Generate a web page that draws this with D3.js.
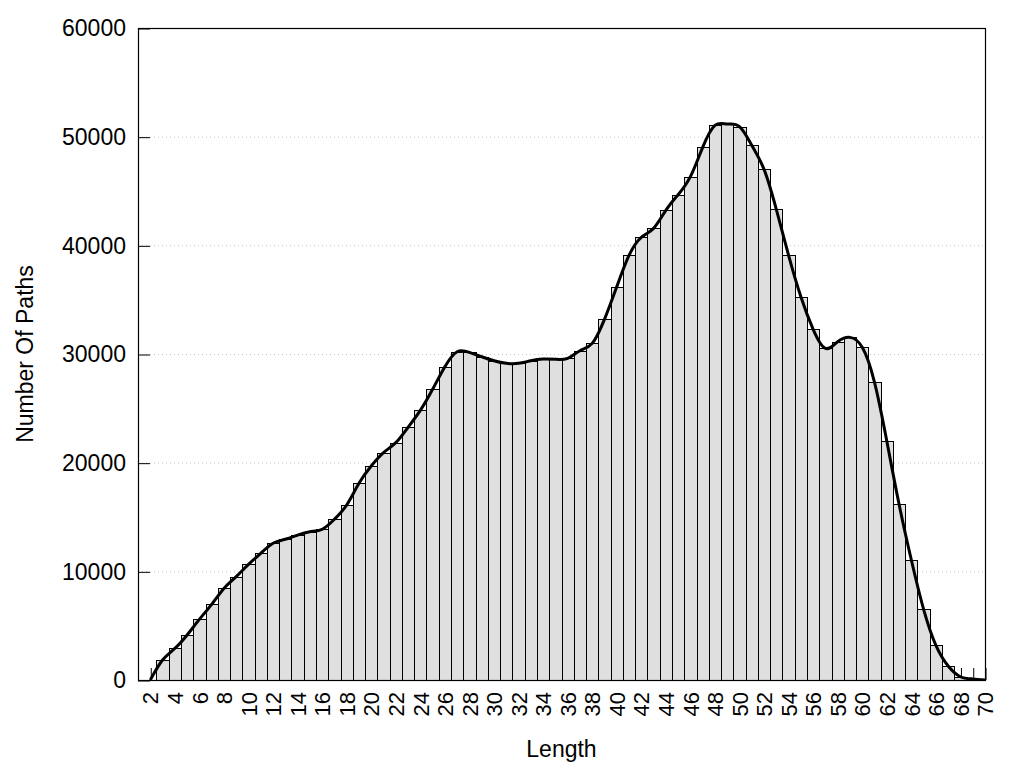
<!DOCTYPE html>
<html>
<head>
<meta charset="utf-8">
<script src="https://d3js.org/d3.v7.min.js"></script>
<style>
  body { margin: 0; background: #fff; }
  text { font-family: "Liberation Sans", Arial, sans-serif; fill: #000; }
</style>
</head>
<body>
<script type="text/javascript">

  // path lengths (x categories)
  var lengths = [2, 3, 4, 5, 6, 7, 8, 9, 10, 11, 12, 13, 14, 15, 16, 17, 18, 19, 20,
                 21, 22, 23, 24, 25, 26, 27, 28, 29, 30, 31, 32, 33, 34, 35, 36, 37, 38,
                 39, 40, 41, 42, 43, 44, 45, 46, 47, 48, 49, 50, 51, 52, 53, 54, 55, 56,
                 57, 58, 59, 60, 61, 62, 63, 64, 65, 66, 67, 68, 69, 70];

  // number of paths for each length
  var counts = [0, 1840, 2900, 4140, 5580, 6960, 8430, 9510, 10640, 11650, 12580,
                12950, 13340, 13650, 13870, 14790, 16100, 18100, 19690, 20920, 21840,
                23250, 24810, 26750, 28830, 30210, 30150, 29750, 29380, 29140, 29140,
                29380, 29540, 29510, 29600, 30300, 30980, 33190, 36190, 39080, 40740,
                41560, 43220, 44660, 46320, 49020, 51040, 51160, 50920, 49200, 46990,
                43310, 39080, 35270, 32270, 30520, 31130, 31530, 30620, 27390, 21990,
                16170, 11040, 6500, 3190, 1290, 300, 100, 0];

  var xTickLabels = [2, 4, 6, 8, 10, 12, 14, 16, 18, 20, 22, 24, 26, 28, 30, 32, 34, 36,
                     38, 40, 42, 44, 46, 48, 50, 52, 54, 56, 58, 60, 62, 64, 66, 68, 70];
  var yTicks = [0, 10000, 20000, 30000, 40000, 50000, 60000];

  var data = lengths.map(function(d, i) { return { len: d, n: counts[i] }; });

  /*
    plot frame (note: "top" is taken by window.top, so use other names)
  */
  var plotL = 138, plotT = 28, plotR = 985, plotB = 680;

  var svg = d3.select("body")
    .append("svg")
      .attr("width", 1024)
      .attr("height", 768);

  var x = d3.scaleLinear().domain([1, 70]).range([plotL, plotR]);
  var y = d3.scaleLinear().domain([0, 60000]).range([plotB, plotT]);
  var bw = x(1.5) - x(1);   // half a bar

  svg.append("clipPath")
      .attr("id", "plot")
    .append("rect")
      .attr("x", plotL)
      .attr("y", plotT)
      .attr("width", plotR - plotL)
      .attr("height", plotB - plotT);

  // dotted grid
  svg.append("g")
    .selectAll("line")
    .data(yTicks.slice(1, -1))
    .join("line")
      .attr("x1", plotL)
      .attr("x2", plotR)
      .attr("y1", function(d) { return y(d) + 0.5; })
      .attr("y2", function(d) { return y(d) + 0.5; })
      .style("stroke", "#c4c4c4")
      .style("stroke-width", 1)
      .style("stroke-dasharray", "1,3");

  // y axis: inward ticks, labels on the left
  var yAxis = d3.axisRight(y).tickValues(yTicks).tickSize(12).tickFormat("");
  svg.append("g")
      .attr("transform", "translate(" + plotL + ",0.5)")
      .call(yAxis)
      .call(function(g) { g.select(".domain").remove(); })
      .selectAll("line").style("stroke", "#000");

  svg.append("g")
    .selectAll("text")
    .data(yTicks)
    .join("text")
      .attr("x", 126)
      .attr("y", function(d) { return y(d); })
      .attr("dy", "0.36em")
      .style("text-anchor", "end")
      .style("font-size", "23px")
      .text(function(d) { return d; });

  // x ticks at every length, pointing up into the plot (behind the bars)
  var xAxis = d3.axisTop(x).tickValues(lengths).tickSize(12).tickFormat("");
  svg.append("g")
      .attr("transform", "translate(0.5," + plotB + ")")
      .call(xAxis)
      .call(function(g) { g.select(".domain").remove(); })
      .selectAll("line").style("stroke", "#000");

  svg.append("g")
    .selectAll("text")
    .data(xTickLabels)
    .join("text")
      .attr("transform", function(d) { return "translate(" + (x(d) + 0.5) + ",692)rotate(-90)"; })
      .attr("dy", "0.35em")
      .style("text-anchor", "end")
      .style("font-size", "22px")
      .text(function(d) { return d; });

  // bars
  svg.append("g")
      .attr("clip-path", "url(#plot)")
    .selectAll("rect")
    .data(data)
    .join("rect")
      .attr("x", function(d) { return Math.round(x(d.len) - bw) + 0.5; })
      .attr("y", function(d) { return Math.round(y(d.n)) + 0.5; })
      .attr("width", function(d) { return Math.round(x(d.len) + bw) - Math.round(x(d.len) - bw); })
      .attr("height", function(d) { return plotB - Math.round(y(d.n)); })
      .style("fill", "#dfdfdf")
      .style("stroke", "#000")
      .style("stroke-width", 1);

  // smoothed curve through the bar tops
  var line = d3.line()
      .x(function(d) { return x(d.len); })
      .y(function(d) { return y(d.n); })
      .curve(d3.curveNatural);

  svg.append("path")
      .datum(data)
      .attr("clip-path", "url(#plot)")
      .attr("d", line)
      .style("fill", "none")
      .style("stroke", "#000")
      .style("stroke-width", 3)
      .style("stroke-linejoin", "round");

  // border
  svg.append("rect")
      .attr("x", plotL + 0.5)
      .attr("y", plotT + 0.5)
      .attr("width", plotR - plotL)
      .attr("height", plotB - plotT)
      .style("fill", "none")
      .style("stroke", "#000")
      .style("stroke-width", 1.2);

  // axis titles
  svg.append("text")
      .attr("x", (plotL + plotR) / 2)
      .attr("y", 757)
      .style("text-anchor", "middle")
      .style("font-size", "23px")
      .text("Length");

  svg.append("text")
      .attr("transform", "translate(33," + ((plotT + plotB) / 2) + ")rotate(-90)")
      .style("text-anchor", "middle")
      .style("font-size", "23px")
      .text("Number Of Paths");

</script>
</body>
</html>
